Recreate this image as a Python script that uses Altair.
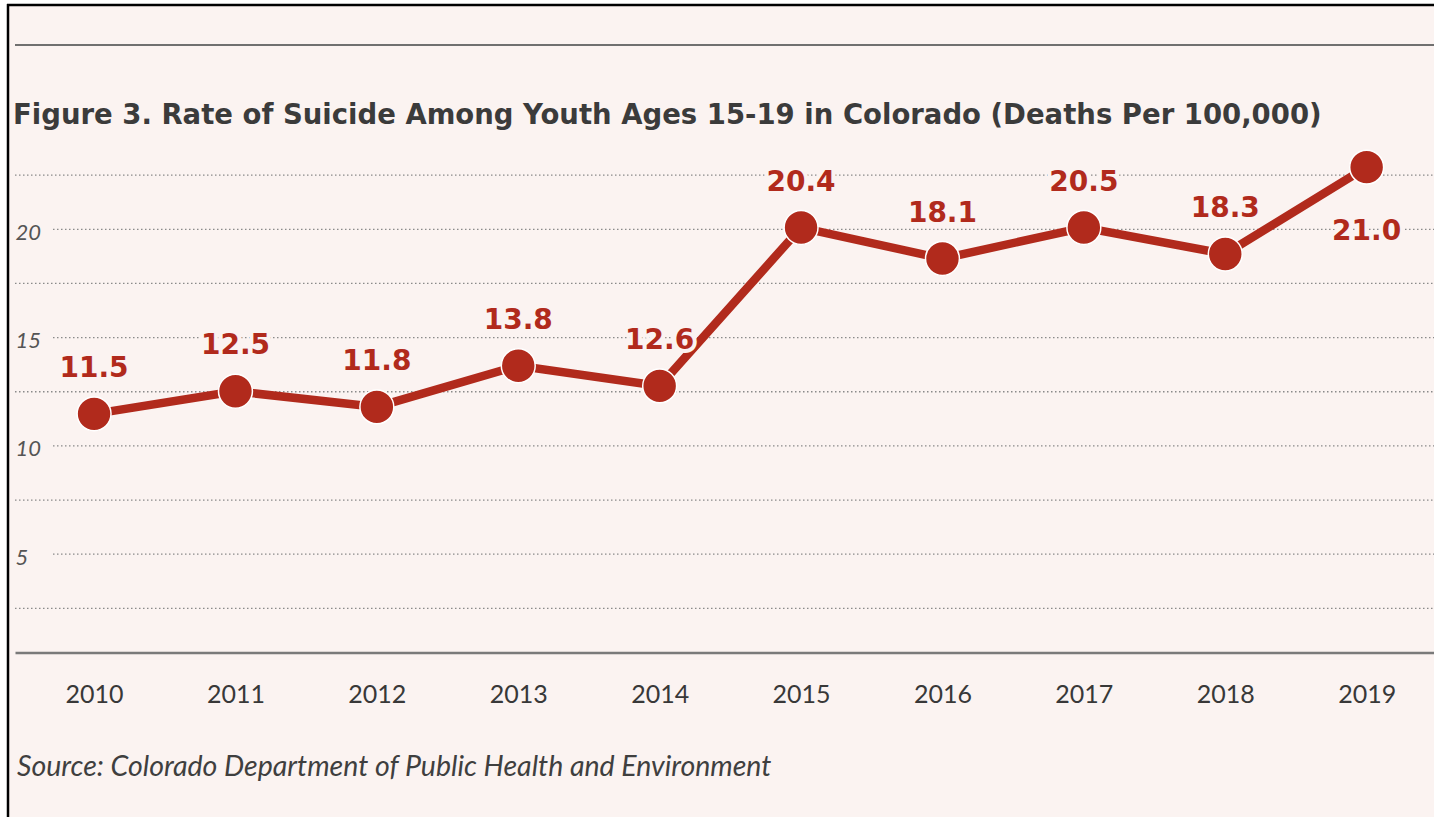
import altair as alt
import pandas as pd

# ---- data ----
years = ["2010", "2011", "2012", "2013", "2014", "2015", "2016", "2017", "2018", "2019"]
rates = [11.48, 12.52, 11.8, 13.7, 12.77, 20.08, 18.65, 20.08, 18.86, 22.87]
rate_labels = ["11.5", "12.5", "11.8", "13.8", "12.6", "20.4", "18.1", "20.5", "18.3", "21.0"]
y_ticks = [5, 10, 15, 20]
grid_minor = [2.5, 7.5, 12.5, 17.5, 22.5]
title_text = "Figure 3. Rate of Suicide Among Youth Ages 15-19 in Colorado (Deaths Per 100,000)"
source_text = "Source: Colorado Department of Public Health and Environment"

RED = "#b12a1c"
BG = "#fbf3f1"
W, H = 1419, 541.5

df = pd.DataFrame({"year": years, "rate": rates, "label": rate_labels})
one = alt.Data(values=[{"k": 0}])

x_axis = alt.Axis(
    title=None, labelAngle=0, ticks=False, tickSize=0, grid=False,
    domainColor="#7a7a7a", domainWidth=2.5, offset=-10,
    labelFont="Lato", labelFontSize=25, labelColor="#383838",
    labelBaseline="alphabetic", labelPadding=50, zindex=1,
)
x_enc = alt.X("year:O", scale=alt.Scale(type="point", padding=0.5177, align=0.54), axis=x_axis)
y_scale = alt.Scale(domain=[0, 25], nice=False, zero=False)
y_axis = alt.Axis(
    title=None, values=y_ticks, domain=False, ticks=False, tickSize=0, grid=False,
    labelAlign="left", labelPadding=0, labelBaseline="middle", labelOffset=3,
    labelFont="Lato", labelFontStyle="italic", labelFontSize=22, labelColor="#555555",
    zindex=1,
)

# frame: white strips and black border lines
white_left = alt.Chart(one).mark_rect(color="white").encode(
    x=alt.value(-15), x2=alt.value(-8), y=alt.value(-121), y2=alt.value(H + 154.5))
white_top = alt.Chart(one).mark_rect(color="white").encode(
    x=alt.value(-15), x2=alt.value(W), y=alt.value(-121), y2=alt.value(-117))
border_left = alt.Chart(one).mark_rule(color="black", strokeWidth=2.5).encode(
    x=alt.value(-7), y=alt.value(-117), y2=alt.value(H + 154.5))
border_top = alt.Chart(one).mark_rule(color="black", strokeWidth=2.5).encode(
    x=alt.value(-8), x2=alt.value(W), y=alt.value(-116))

top_rule = alt.Chart(one).mark_rule(color="#707070", strokeWidth=2).encode(
    x=alt.value(0), x2=alt.value(W), y=alt.value(-76))

grid_a = alt.Chart(pd.DataFrame({"rate": y_ticks})).mark_rule(
    color="#8a8a8a", strokeWidth=1.3, strokeDash=[1.5, 2.5]).encode(
    y=alt.Y("rate:Q", scale=y_scale, axis=y_axis), x=alt.value(38), x2=alt.value(W))
grid_b = alt.Chart(pd.DataFrame({"rate": grid_minor})).mark_rule(
    color="#8a8a8a", strokeWidth=1.3, strokeDash=[1.5, 2.5]).encode(
    y=alt.Y("rate:Q", scale=y_scale, axis=y_axis), x=alt.value(0), x2=alt.value(W))

base = alt.Chart(df)
line = base.mark_line(color=RED, strokeWidth=8.5).encode(
    x=x_enc, y=alt.Y("rate:Q", scale=y_scale, axis=y_axis))
pts = base.mark_circle(color=RED, opacity=1, size=1150, stroke="white", strokeWidth=1.5).encode(
    x=x_enc, y=alt.Y("rate:Q", scale=y_scale, axis=y_axis))

label_font = dict(font="DejaVu Sans", fontWeight="bold", fontSize=28, baseline="middle", align="center")
above = base.transform_filter(alt.datum.year != "2019")
below = base.transform_filter(alt.datum.year == "2019")
enc = dict(x=x_enc, y=alt.Y("rate:Q", scale=y_scale, axis=y_axis), text="label:N")
halo_a = above.mark_text(dy=-45, color=BG, stroke=BG, strokeWidth=8, strokeJoin="round", **label_font).encode(**enc)
text_a = above.mark_text(dy=-45, color=RED, **label_font).encode(**enc)
halo_b = below.mark_text(dy=65, color=BG, stroke=BG, strokeWidth=8, strokeJoin="round", **label_font).encode(**enc)
text_b = below.mark_text(dy=65, color=RED, **label_font).encode(**enc)

title = alt.Chart(one).mark_text(
    text=title_text, align="left", baseline="alphabetic", font="DejaVu Sans", fontWeight="bold",
    fontSize=27.5, color="#3b3b3b").encode(x=alt.value(-2), y=alt.value(3))
source = alt.Chart(one).mark_text(
    text=source_text, align="left", baseline="alphabetic", font="Lato", fontStyle="italic",
    fontSize=28.5, color="#3f3f3f").encode(x=alt.value(2), y=alt.value(655))

chart = alt.layer(
    white_left, white_top, border_left, border_top, top_rule, grid_a, grid_b,
    line, pts, halo_a, halo_b, text_a, text_b, title, source,
).properties(
    width=W, height=H,
    autosize=alt.AutoSizeParams(type="none"),
    padding={"left": 15, "top": 121, "right": 0, "bottom": 154.5},
    background=BG,
).configure_view(stroke=None)

chart.save("out.html", embed_options={"renderer": "svg", "actions": False})
